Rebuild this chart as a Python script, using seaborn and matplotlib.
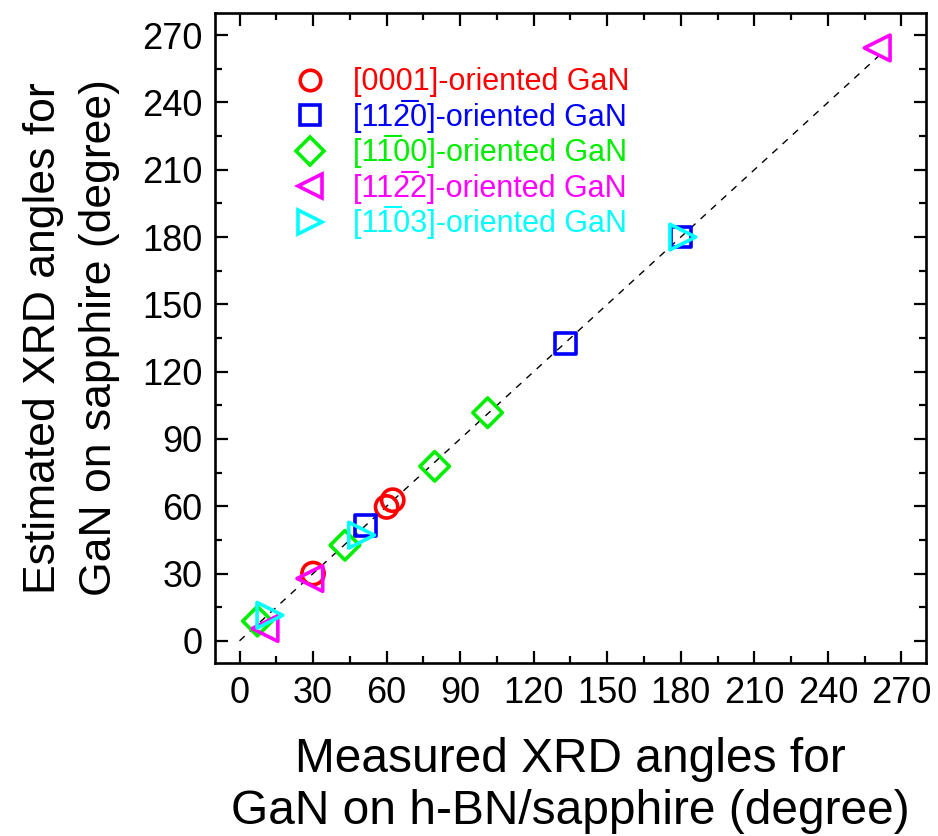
import numpy as np
import pandas as pd
import matplotlib
matplotlib.use('Agg')
import matplotlib.pyplot as plt
from matplotlib.lines import Line2D
from matplotlib.ticker import MultipleLocator
import seaborn as sns

# measured (h-BN/sapphire) vs estimated (sapphire) XRD angles, degrees
gan_0001_meas = [30.0, 60.0, 62.5]
gan_0001_est = [30.0, 59.7, 62.7]
gan_1120_meas = [51.5, 132.9, 180.1]
gan_1120_est = [51.5, 132.7, 180.0]
gan_1100_meas = [7.3, 43.0, 79.6, 101.2]
gan_1100_est = [8.8, 42.6, 77.8, 101.7]
gan_1122_meas = [10.4, 28.7, 260.1]
gan_1122_est = [5.5, 27.8, 264.3]
gan_1103_meas = [12.4, 49.8, 180.8]
gan_1103_est = [11.4, 47.1, 180.0]

guide_line = [0, 263]  # y = x reference

# U+0305 combining overline marks the negative Miller index
labels = [
    '[0001]-oriented GaN',
    '[112\u03050]-oriented GaN',
    '[11\u030500]-oriented GaN',
    '[112\u03052]-oriented GaN',
    '[11\u030503]-oriented GaN',
]
colors = ['#ff0000', '#0000ff', '#00ee00', '#ff00ff', '#00ffff']
markers = ['o', 's', 'D', '<', '>']
sizes = [16, 15, 15, 18.5, 18.5]

series = [
    (gan_0001_meas, gan_0001_est),
    (gan_1120_meas, gan_1120_est),
    (gan_1100_meas, gan_1100_est),
    (gan_1122_meas, gan_1122_est),
    (gan_1103_meas, gan_1103_est),
]

sns.set_style('ticks')
plt.rcParams['font.family'] = ['Liberation Sans', 'DejaVu Sans']
plt.rcParams['text.color'] = 'black'
plt.rcParams['axes.labelcolor'] = 'black'

fig = plt.figure(figsize=(9.38, 8.36), dpi=100)
ax = fig.add_axes([0.2292, 0.2066, 0.758, 0.7782])

sns.lineplot(x=guide_line, y=guide_line, ax=ax, color='black', lw=1.0,
             linestyle=(0, (5, 5)), zorder=1)

handles = []
for (mx, my), lab, c, m, ms in zip(series, labels, colors, markers, sizes):
    df = pd.DataFrame({'measured': mx, 'estimated': my})
    sns.scatterplot(data=df, x='measured', y='estimated', ax=ax, marker=m,
                    s=ms ** 2, facecolor='none', edgecolor=c, linewidth=2.6,
                    zorder=3)
    handles.append(Line2D([], [], ls='none', marker=m, ms=ms * 0.92,
                          mfc='none', mec=c, mew=2.6))

leg = ax.legend(handles, labels, loc='upper left', bbox_to_anchor=(0.1125, 0.916),
                frameon=False, fontsize=22, handlelength=1.0, handletextpad=0.9,
                labelspacing=0.08, borderpad=0, borderaxespad=0)
for txt, c in zip(leg.get_texts(), colors):
    txt.set_color(c)

ax.set_xlim(-10, 280)
ax.set_ylim(-10, 280)
ax.xaxis.set_major_locator(MultipleLocator(30))
ax.yaxis.set_major_locator(MultipleLocator(30))
ax.xaxis.set_minor_locator(MultipleLocator(15))
ax.yaxis.set_minor_locator(MultipleLocator(15))
ax.tick_params(which='both', direction='in', top=True, right=True,
               width=1.6, colors='black')
ax.tick_params(which='major', length=9, labelsize=26, pad=9)
ax.tick_params(which='minor', length=5)
for sp in ax.spines.values():
    sp.set_linewidth(1.9)
    sp.set_color('black')

ax.set_xlabel('Measured XRD angles for\nGaN on h-BN/sapphire (degree)',
              fontsize=34.5, linespacing=1.2, labelpad=19)
ax.set_ylabel('Estimated XRD angles for\nGaN on sapphire (degree)',
              fontsize=32, linespacing=1.45, labelpad=16)

fig.savefig('out.png', dpi=100)
